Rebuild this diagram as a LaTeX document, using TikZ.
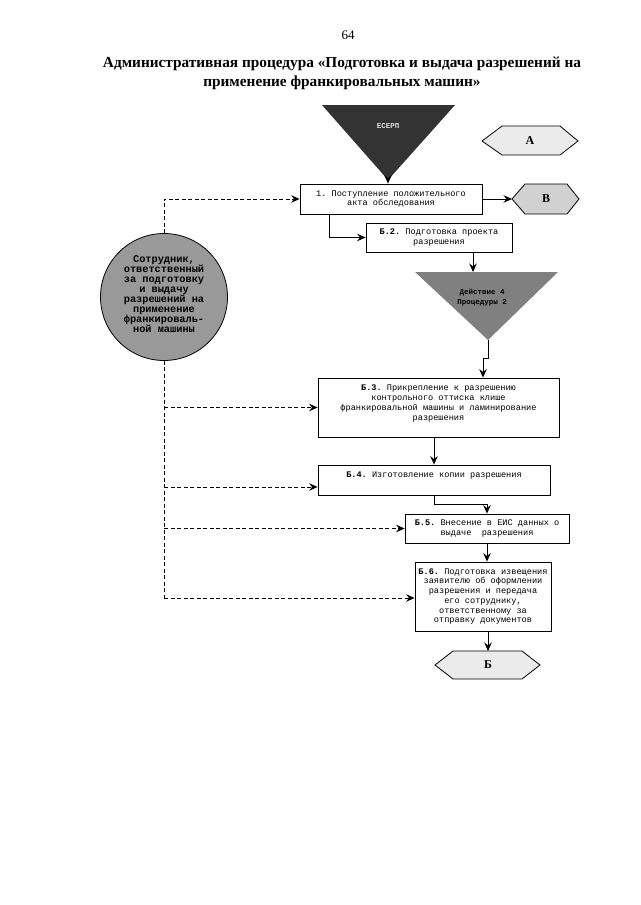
\documentclass[tikz,border=0pt]{standalone}
\usepackage{fontspec}
\setmainfont{Liberation Serif}
\setmonofont{Liberation Mono}
\usetikzlibrary{arrows.meta}
\begin{document}
\begin{tikzpicture}[x=1pt,y=-1pt,
  arr/.style={-{Stealth[length=8.5pt,width=7.5pt,inset=3pt]}, line width=0.9pt},
  dsh/.style={dash pattern=on 4pt off 2.5pt, line width=0.9pt},
  dsharr/.style={dsh, -{Stealth[length=8.5pt,width=7.5pt,inset=3pt]}},
  box/.style={draw, line width=0.8pt, align=center, inner sep=0pt,
    font=\fontsize{8.6}{9.7}\selectfont\ttfamily},
  hexshape/.style={draw, line width=0.8pt},
  hexlab/.style={font=\fontsize{12}{12}\selectfont\bfseries},
  trilab/.style={align=center, font=\fontsize{7.5}{10}\selectfont\ttfamily\bfseries},
]
\useasboundingbox (0,0) rectangle (640,905);

% header
\node[font=\fontsize{13}{13}\selectfont] (pagenum) at (348,35) {64};
\node[align=center, font=\fontsize{15.3}{19}\selectfont\bfseries] (title) at (342,73)
  {Административная процедура «Подготовка и выдача разрешений на\\применение франкировальных машин»};

% top triangle
\fill[black!80] (322,105) -- (455,105) -- (388,180) -- cycle;
\coordinate (t1apex) at (388,180);
\node[trilab, text=black!12] (t1lab) at (388,126) {ЕСЕРП};

% hexagon A
\draw[hexshape, fill=black!8] (482,141) -- (502,126) -- (560,126) -- (578,141) -- (560,155) -- (502,155) -- cycle;
\node[hexlab] (hexA) at (530,141) {А};

% box 1
\node[box, minimum width=182pt, minimum height=30pt] (box1) at (391,199)
  {1. Поступление положительного\\акта обследования};

% hexagon В
\draw[hexshape, fill=black!18] (512,199) -- (525,184) -- (567,184) -- (579,199) -- (567,214) -- (525,214) -- cycle;
\coordinate (hexBw) at (512,199);
\node[hexlab] (hexB) at (546,199) {В};

% box Б.2
\node[box, minimum width=146pt, minimum height=29pt] (b2) at (439,237.5)
  {\textbf{Б.2.} Подготовка проекта\\разрешения};

% second triangle
\fill[black!50] (415,272) -- (558,272) -- (488,340) -- cycle;
\coordinate (t2in) at (473,272);
\coordinate (t2apex) at (488,340);
\coordinate (bend1) at (488,358);
\node[trilab] (t2lab) at (482,298) {Действие 4\\Процедуры 2};

% box Б.3
\node[box, minimum width=241pt, minimum height=59pt] (b3) at (438.5,407.5)
  {\textbf{Б.3.} Прикрепление к разрешению\\контрольного оттиска клише\\франкировальной машины и ламинирование\\разрешения\\[0pt]};

% box Б.4
\node[box, minimum width=232pt, minimum height=30pt, text depth=10pt] (b4) at (434,480)
  {\textbf{Б.4.} Изготовление копии разрешения};

% box Б.5
\node[box, minimum width=164pt, minimum height=29pt] (b5) at (487,528.5)
  {\textbf{Б.5.} Внесение в ЕИС данных о\\выдаче~~разрешения};

% box Б.6
\node[box, minimum width=136pt, minimum height=69pt] (b6) at (483,596.5)
  {\textbf{Б.6.} Подготовка извещения\\заявителю об оформлении\\разрешения и передача\\его сотруднику,\\ответственному за\\отправку документов};

% hexagon Б
\draw[hexshape, fill=black!8] (435,665) -- (453,651) -- (522,651) -- (540,665) -- (522,679) -- (453,679) -- cycle;
\coordinate (hexBtop) at (488,651);
\node[hexlab] (hexBB) at (488,665) {Б};

% circle (employee)
\node[circle, draw, line width=0.8pt, fill=black!40, minimum size=127pt, inner sep=0pt] (circ) at (164,297) {};
\node[align=center, font=\fontsize{10.3}{9.9}\selectfont\ttfamily\bfseries] (circlab) at (164,294)
  {Сотрудник,\\ответственный\\за подготовку\\и выдачу\\разрешений на\\применение\\франкироваль-\\ной машины};

% solid connectors
\draw[arr] (t1apex) -- (t1apex |- box1.north);
\draw[arr] (box1.east) -- (hexBw);
\draw[arr] ([xshift=-62pt]box1.south) |- (b2.west);
\draw[arr] ([xshift=34pt]b2.south) -- (t2in);
\draw[arr] (t2apex) -- (bend1) -| ([xshift=44.5pt]b3.north);
\draw[arr] (b3.south -| b4.north) -- (b4.north);
\draw[arr] (b4.south) -- ++(0,9) -| (b5.north);
\draw[arr] (b5.south) -- (b5.south |- b6.north);
\draw[arr] (b6.south -| hexBtop) -- (hexBtop);

% dashed connectors
\coordinate (trunk) at (164,598);
\coordinate (b4in) at ([yshift=-7pt]b4.west);
\draw[dsharr] (circ.north) |- (box1.west);
\draw[dsh] (circ.south) -- (trunk);
\draw[dsharr] (circ.south |- b3.west) -- (b3.west);
\draw[dsharr] (circ.south |- b4in) -- (b4in);
\draw[dsharr] (circ.south |- b5.west) -- (b5.west);
\draw[dsharr] (trunk) -- (trunk -| b6.west);
\end{tikzpicture}
\end{document}
